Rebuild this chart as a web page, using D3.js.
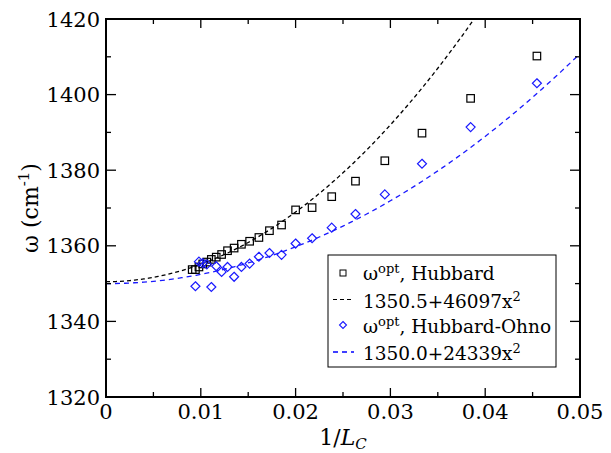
<!DOCTYPE html>
<html><head><meta charset="utf-8">
<script src="https://cdn.jsdelivr.net/npm/d3@7"></script>
<style>body{margin:0;background:#fff}svg{display:block}
svg text{font-family:"DejaVu Serif"}
</style>
</head><body>
<svg id="c" width="611" height="453"></svg>
<script>
// chain lengths L (x = 1/L)
const chainL = [22,26,30,34,38,42,46,50,54,58,62,66,70,74,78,82,86,90,94,98,102,106,110];
const hubbard = [1410.2,1399.0,1389.8,1382.5,1377.1,1373.0,1370.1,1369.5,1365.5,1364.0,1362.2,1361.2,1360.4,1359.4,1358.7,1357.7,1357.0,1356.4,1355.7,1355.2,1354.4,1353.7,1353.7];
const ohnoL = [22,26,30,34,38,42,46,50,54,58,62,66,70,74,78,82,86,90,94,98,102,106];
const ohno = [1403.0,1391.4,1381.7,1373.6,1368.4,1364.8,1362.0,1360.6,1357.6,1358.1,1357.1,1355.3,1354.4,1351.8,1354.4,1353.1,1354.6,1349.1,1355.1,1355.4,1355.8,1349.3];
// fit coefficients [a, b] for a + b x^2 (from legend)
const fitHubbard = [1350.5, 46097];
const fitOhno = [1350.0, 24339];
const xTicks = [0,0.01,0.02,0.03,0.04,0.05];
const yTicks = [1320,1340,1360,1380,1400,1420];
const legendLabels = ["Hubbard","1350.5+46097x","Hubbard-Ohno","1350.0+24339x"];

const svg = d3.select("#c");
const L = 106, R = 580, T = 19, B = 397;
const x = d3.scaleLinear().domain([0,0.05]).range([L,R]);
const y = d3.scaleLinear().domain([1320,1420]).range([B,T]);
const blue = "#1a1aff";

svg.append("defs").append("clipPath").attr("id","clip").append("rect")
  .attr("x",L).attr("y",T).attr("width",R-L).attr("height",B-T);

const xs = d3.range(0,0.05001,0.0005);
function fitLine(c){ return d3.line().x(d=>x(d)).y(d=>y(c[0]+c[1]*d*d))(xs); }
svg.append("path").attr("d",fitLine(fitHubbard)).attr("clip-path","url(#clip)")
  .attr("fill","none").attr("stroke","#000").attr("stroke-width",1.3).attr("stroke-dasharray","4,3");
svg.append("path").attr("d",fitLine(fitOhno)).attr("clip-path","url(#clip)")
  .attr("fill","none").attr("stroke",blue).attr("stroke-width",1.3).attr("stroke-dasharray","5,4");

const sq = 7.5, dm = 4.5;
svg.append("g").selectAll("rect").data(chainL).join("rect")
  .attr("x",(d,i)=>x(1/d)-sq/2).attr("y",(d,i)=>y(hubbard[i])-sq/2)
  .attr("width",sq).attr("height",sq).attr("fill","none").attr("stroke","#000").attr("stroke-width",1.2);
svg.append("g").selectAll("path").data(ohnoL).join("path")
  .attr("d",(d,i)=>{const cx=x(1/d),cy=y(ohno[i]);return `M${cx},${cy-dm}L${cx+dm},${cy}L${cx},${cy+dm}L${cx-dm},${cy}Z`;})
  .attr("fill","none").attr("stroke",blue).attr("stroke-width",1.2);

const ax = svg.append("g").attr("stroke","#000").attr("stroke-width",2).attr("fill","none");
ax.append("rect").attr("x",L).attr("y",T).attr("width",R-L).attr("height",B-T);
const xMinor = d3.range(0.005,0.05,0.01);
const yMinor = d3.range(1330,1420,20);
xTicks.forEach(t=>{ ax.append("line").attr("x1",x(t)).attr("x2",x(t)).attr("y1",B).attr("y2",B-9).attr("stroke-width",1.3);
  ax.append("line").attr("x1",x(t)).attr("x2",x(t)).attr("y1",T).attr("y2",T+9).attr("stroke-width",1.3);});
xMinor.forEach(t=>{ ax.append("line").attr("x1",x(t)).attr("x2",x(t)).attr("y1",B).attr("y2",B-5).attr("stroke-width",1.3);
  ax.append("line").attr("x1",x(t)).attr("x2",x(t)).attr("y1",T).attr("y2",T+5).attr("stroke-width",1.3);});
yTicks.forEach(t=>{ ax.append("line").attr("x1",L).attr("x2",L+10).attr("y1",y(t)).attr("y2",y(t)).attr("stroke-width",1.3);
  ax.append("line").attr("x1",R).attr("x2",R-10).attr("y1",y(t)).attr("y2",y(t)).attr("stroke-width",1.3);});
yMinor.forEach(t=>{ ax.append("line").attr("x1",L).attr("x2",L+5).attr("y1",y(t)).attr("y2",y(t)).attr("stroke-width",1.3);
  ax.append("line").attr("x1",R).attr("x2",R-5).attr("y1",y(t)).attr("y2",y(t)).attr("stroke-width",1.3);});

svg.append("g").selectAll("text").data(xTicks).join("text")
  .attr("x",d=>x(d)).attr("y",419).attr("text-anchor","middle").attr("font-size",21)
  .text(d=>d===0?"0":d3.format(".2f")(d));
svg.append("g").selectAll("text").data(yTicks).join("text")
  .attr("x",100).attr("y",d=>y(d)+7.5).attr("text-anchor","end").attr("font-size",21)
  .text(d=>d);

const xt = svg.append("text").attr("x",343).attr("y",445).attr("text-anchor","middle").attr("font-size",22);
xt.append("tspan").text("1/");
xt.append("tspan").attr("font-style","italic").text("L");
xt.append("tspan").attr("font-style","italic").attr("font-size",15).attr("dy",4).text("C");
const yt = svg.append("text").attr("transform","translate(38,208) rotate(-90)").attr("text-anchor","middle").attr("font-size",22);
yt.append("tspan").text("ω (cm");
yt.append("tspan").attr("font-size",15).attr("dy",-9).text("-1");
yt.append("tspan").attr("dy",9).text(")");

const lg = svg.append("g");
lg.append("rect").attr("x",328).attr("y",255).attr("width",228).attr("height",112)
  .attr("fill","#fff").attr("stroke","#000").attr("stroke-width",1);
const rows = [280,307.5,333,360];
const tx = 363;
function omegaLabel(yb, name){
  const t = lg.append("text").attr("x",tx).attr("y",yb).attr("font-size",18.5);
  t.append("tspan").text("ω");
  t.append("tspan").attr("font-size",13).attr("dy",-7).text("opt");
  t.append("tspan").attr("dy",7).text(", "+name);
}
function fitLabel(yb, s){
  const t = lg.append("text").attr("x",tx).attr("y",yb).attr("font-size",18.5);
  t.append("tspan").text(s);
  t.append("tspan").attr("font-size",13).attr("dy",-7).text("2");
}
omegaLabel(rows[0], legendLabels[0]);
fitLabel(rows[1], legendLabels[1]);
omegaLabel(rows[2], legendLabels[2]);
fitLabel(rows[3], legendLabels[3]);
lg.append("rect").attr("x",340).attr("y",270).attr("width",6).attr("height",6).attr("fill","none").attr("stroke","#000").attr("stroke-width",1);
lg.append("line").attr("x1",333).attr("x2",354).attr("y1",299.5).attr("y2",299.5).attr("stroke","#000").attr("stroke-width",1.2).attr("stroke-dasharray","4,3");
lg.append("path").attr("d","M343,321.5L346.5,325L343,328.5L339.5,325Z").attr("fill","none").attr("stroke",blue).attr("stroke-width",1.1);
lg.append("line").attr("x1",333).attr("x2",354).attr("y1",352).attr("y2",352).attr("stroke","#0000ff").attr("stroke-width",1.5).attr("stroke-dasharray","5,4");
</script>
</body></html>
